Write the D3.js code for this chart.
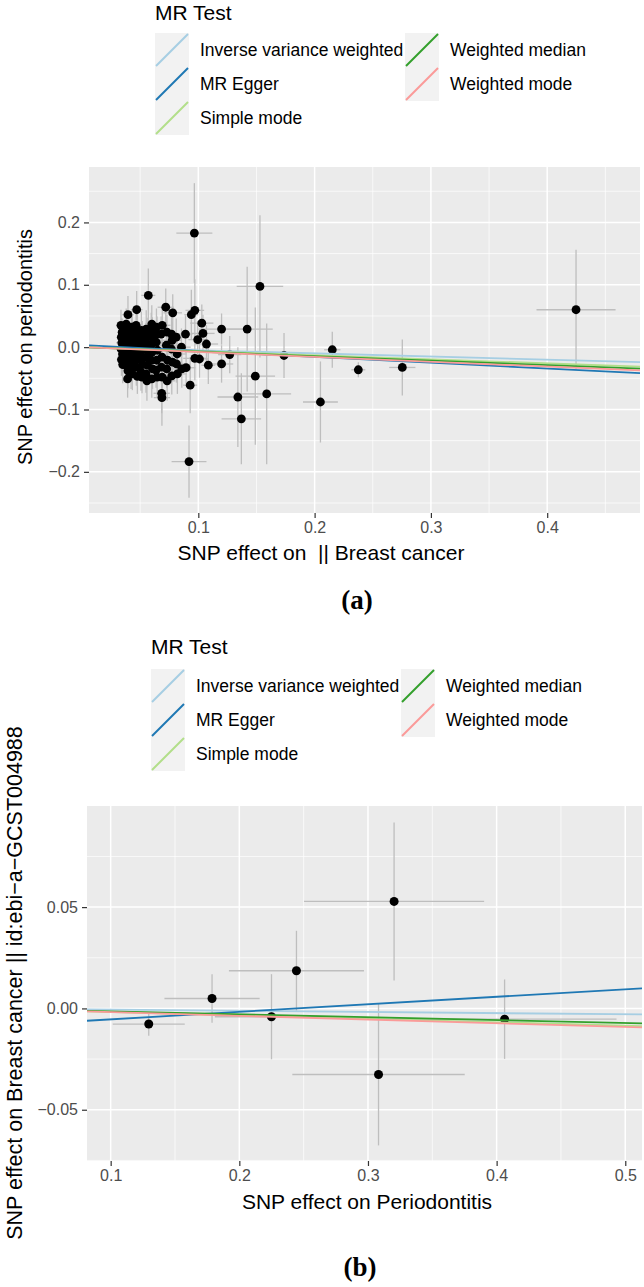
<!DOCTYPE html>
<html><head><meta charset="utf-8">
<script src="https://cdnjs.cloudflare.com/ajax/libs/d3/7.8.5/d3.min.js"></script>
<style>
html,body{margin:0;padding:0;background:#fff;}
svg text{font-family:"Liberation Sans",Arial,sans-serif;white-space:pre;}
</style></head>
<body>
<svg id="chart" width="644" height="1287"></svg>
<script>
// ---------- data ----------
const methods = ["Inverse variance weighted","MR Egger","Simple mode","Weighted median","Weighted mode"];
const methodColors = ["#a6cee3","#1f78b4","#b2df8a","#33a02c","#fb9a99"];

// panel (a): exposure Breast cancer -> outcome periodontitis
const slopesA = [-0.050, -0.094, -0.065, -0.072, -0.078];
const interceptsA = [0, 0.0033, 0, 0, 0];
const xTicksA = [0.1, 0.2, 0.3, 0.4];
const yTicksA = [-0.2, -0.1, 0.0, 0.1, 0.2];
// [beta.exposure, beta.outcome, se.exposure, se.outcome]
const snpA = [
[0.0966,0.183,0.0155,0.080],[0.153,0.0974,0.020,0.114],[0.057,0.083,0.006,0.043],
[0.092,-0.1835,0.015,0.058],[0.137,-0.115,0.017,0.073],[0.134,-0.080,0.0175,0.080],
[0.1588,-0.075,0.021,0.113],[0.149,-0.0465,0.017,0.110],[0.142,0.029,0.022,0.100],
[0.120,0.029,0.020,0.025],[0.127,-0.012,0.010,0.030],[0.1737,-0.0134,0.005,0.036],
[0.120,-0.027,0.010,0.030],[0.1086,-0.029,0.006,0.030],[0.093,-0.061,0.006,0.045],
[0.101,-0.019,0.008,0.030],[0.097,-0.018,0.010,0.035],[0.107,0.005,0.010,0.030],
[0.0995,0.012,0.008,0.030],[0.104,0.022,0.010,0.030],[0.103,0.0385,0.010,0.030],
[0.097,0.059,0.008,0.050],[0.094,0.052,0.006,0.040],[0.089,0.021,0.006,0.030],
[0.4248,0.060,0.034,0.096],[0.2754,-0.0326,0.0113,0.045],[0.2376,-0.0363,0.006,0.012],
[0.2152,-0.0042,0.007,0.029],[0.205,-0.088,0.015,0.065],
[0.0335,0.035,0.004,0.025],[0.0345,0.024,0.004,0.022],[0.0338,0.016,0.004,0.030],
[0.0342,0.007,0.005,0.024],[0.0336,-0.003,0.004,0.028],[0.0348,-0.011,0.004,0.022],
[0.0339,-0.020,0.004,0.026],[0.0350,-0.028,0.004,0.030],
[0.0395,0.052,0.005,0.030],[0.0380,0.037,0.005,0.025],[0.0388,0.030,0.004,0.028],
[0.0378,0.019,0.005,0.020],[0.0385,0.008,0.004,0.030],[0.0392,0.000,0.005,0.025],
[0.0381,-0.008,0.004,0.022],[0.0390,-0.019,0.005,0.030],[0.0383,-0.030,0.004,0.025],
[0.0395,-0.038,0.005,0.028],[0.0392,-0.051,0.005,0.030],
[0.0425,0.032,0.005,0.026],[0.0432,0.021,0.004,0.030],[0.0420,0.011,0.005,0.024],
[0.0430,0.000,0.005,0.030],[0.0427,-0.013,0.004,0.025],[0.0435,-0.024,0.005,0.028],
[0.0422,-0.035,0.004,0.032],[0.0433,-0.043,0.005,0.026],
[0.0470,0.060,0.005,0.030],[0.0465,0.035,0.005,0.026],[0.0475,0.024,0.005,0.030],
[0.0468,0.013,0.006,0.028],[0.0478,0.003,0.005,0.025],[0.0462,-0.008,0.005,0.030],
[0.0473,-0.020,0.006,0.026],[0.0467,-0.032,0.005,0.030],[0.0476,-0.047,0.006,0.028],
[0.0510,0.027,0.005,0.030],[0.0518,0.016,0.006,0.026],[0.0508,0.005,0.005,0.030],
[0.0515,-0.005,0.006,0.024],[0.0512,-0.016,0.005,0.030],[0.0520,-0.028,0.006,0.028],
[0.0507,-0.040,0.005,0.030],[0.0516,-0.048,0.006,0.026],
[0.0552,0.029,0.006,0.030],[0.0560,0.019,0.006,0.028],[0.0548,0.008,0.006,0.030],
[0.0558,-0.003,0.006,0.026],[0.0553,-0.016,0.006,0.030],[0.0562,-0.029,0.006,0.028],
[0.0550,-0.043,0.006,0.030],[0.0558,-0.054,0.006,0.032],
[0.0600,0.037,0.006,0.030],[0.0595,0.027,0.006,0.028],[0.0605,0.016,0.006,0.032],
[0.0598,0.005,0.007,0.026],[0.0602,-0.008,0.006,0.030],[0.0596,-0.021,0.006,0.028],
[0.0606,-0.035,0.007,0.032],[0.0600,-0.051,0.006,0.030],
[0.0640,0.032,0.006,0.030],[0.0645,0.021,0.007,0.028],[0.0638,0.008,0.006,0.030],
[0.0648,-0.005,0.007,0.026],[0.0642,-0.021,0.006,0.030],[0.0637,-0.037,0.007,0.028],
[0.0646,-0.048,0.006,0.032],
[0.0690,0.035,0.007,0.030],[0.0680,0.021,0.006,0.028],[0.0688,-0.016,0.007,0.030],
[0.0683,-0.032,0.007,0.028],[0.0690,-0.048,0.006,0.030],[0.0685,-0.074,0.007,0.032],
[0.0687,-0.081,0.007,0.045],
[0.0720,0.064,0.007,0.030],[0.0730,0.024,0.007,0.028],[0.0725,0.003,0.008,0.030],
[0.0735,-0.021,0.007,0.026],[0.0728,-0.035,0.008,0.030],[0.0732,-0.054,0.007,0.032],
[0.0780,0.055,0.008,0.030],[0.0770,0.021,0.007,0.028],[0.0775,0.011,0.008,0.030],
[0.0768,-0.003,0.007,0.026],[0.0778,-0.024,0.008,0.030],[0.0772,-0.046,0.007,0.030],
[0.0810,0.016,0.008,0.030],[0.0818,-0.011,0.008,0.028],[0.0812,-0.027,0.008,0.030],
[0.0820,-0.043,0.008,0.032],
[0.0855,0.000,0.008,0.030],[0.0858,-0.035,0.008,0.030],[0.0895,-0.033,0.008,0.030]
];

// panel (b): exposure Periodontitis -> outcome Breast cancer
const slopesB = [-0.0058, 0.0371, -0.0170, -0.0144, -0.0183];
const interceptsB = [0, -0.0091, 0, 0, 0];
const xTicksB = [0.1, 0.2, 0.3, 0.4, 0.5];
const yTicksB = [-0.05, 0.00, 0.05];
const snpB = [
[0.1296,-0.0077,0.028,0.0058],[0.1788,0.0049,0.037,0.012],[0.225,-0.0041,0.044,0.021],
[0.2444,0.0186,0.0525,0.0197],[0.3203,0.0528,0.070,0.039],[0.3082,-0.0326,0.067,0.035],
[0.4062,-0.0053,0.087,0.0196]
];

// ---------- drawing ----------
const svg = d3.select("#chart");

function drawLegend(x0, y0, tx, ty){
  const g = svg.append("g");
  g.append("text").attr("x", tx).attr("y", ty).attr("font-size", 21).attr("dominant-baseline","middle")
    .attr("fill","#000").text("MR Test");
  const kw = 34, kh = 34;
  methods.forEach((m, i) => {
    const col = i < 3 ? 0 : 1, row = i < 3 ? i : i - 3;
    const kx = x0 + col * 250, ky = y0 + row * kh;
    g.append("rect").attr("x", kx).attr("y", ky).attr("width", kw).attr("height", kh).attr("fill", "#f2f2f2");
    g.append("line").attr("x1", kx + 1).attr("y1", ky + kh - 1).attr("x2", kx + kw - 1).attr("y2", ky + 1)
      .attr("stroke", methodColors[i]).attr("stroke-width", 2);
    g.append("text").attr("x", kx + kw + 11).attr("y", ky + kh / 2 + 1).attr("dominant-baseline","middle")
      .attr("font-size", 17.5).attr("fill", "#000").text(m);
  });
}

function drawPanel(cfg){
  const x = d3.scaleLinear().domain(cfg.xDomain).range([cfg.left, cfg.right]);
  const y = d3.scaleLinear().domain(cfg.yDomain).range([cfg.bottom, cfg.top]);
  const g = svg.append("g");
  const clipId = "clip" + cfg.id;
  svg.append("defs").append("clipPath").attr("id", clipId).append("rect")
    .attr("x", cfg.left).attr("y", cfg.top).attr("width", cfg.right - cfg.left).attr("height", cfg.bottom - cfg.top);
  g.append("rect").attr("x", cfg.left).attr("y", cfg.top).attr("width", cfg.right - cfg.left)
    .attr("height", cfg.bottom - cfg.top).attr("fill", "#ebebeb");
  const grid = g.append("g");
  cfg.xMinor.forEach(v => grid.append("line").attr("x1", x(v)).attr("x2", x(v)).attr("y1", cfg.top).attr("y2", cfg.bottom)
    .attr("stroke", "#fff").attr("stroke-width", 0.7));
  cfg.yMinor.forEach(v => grid.append("line").attr("y1", y(v)).attr("y2", y(v)).attr("x1", cfg.left).attr("x2", cfg.right)
    .attr("stroke", "#fff").attr("stroke-width", 0.7));
  cfg.xTicks.forEach(v => grid.append("line").attr("x1", x(v)).attr("x2", x(v)).attr("y1", cfg.top).attr("y2", cfg.bottom)
    .attr("stroke", "#fff").attr("stroke-width", 1.5));
  cfg.yTicks.forEach(v => grid.append("line").attr("y1", y(v)).attr("y2", y(v)).attr("x1", cfg.left).attr("x2", cfg.right)
    .attr("stroke", "#fff").attr("stroke-width", 1.5));

  const data = g.append("g").attr("clip-path", `url(#${clipId})`);
  data.selectAll("line.ev").data(cfg.snps).join("line").attr("class","ev")
    .attr("x1", d => x(d[0])).attr("x2", d => x(d[0]))
    .attr("y1", d => y(d[1] - d[3])).attr("y2", d => y(d[1] + d[3]))
    .attr("stroke", "#bebebe").attr("stroke-width", 1.3);
  data.selectAll("line.eh").data(cfg.snps).join("line").attr("class","eh")
    .attr("x1", d => x(d[0] - d[2])).attr("x2", d => x(d[0] + d[2]))
    .attr("y1", d => y(d[1])).attr("y2", d => y(d[1]))
    .attr("stroke", "#bebebe").attr("stroke-width", 1.3);
  data.selectAll("circle").data(cfg.snps).join("circle")
    .attr("cx", d => x(d[0])).attr("cy", d => y(d[1])).attr("r", cfg.r).attr("fill", "#000");
  const [x0, x1] = cfg.xDomain;
  methods.forEach((m, i) => {
    data.append("line")
      .attr("x1", x(x0)).attr("y1", y(cfg.intercepts[i] + cfg.slopes[i] * x0))
      .attr("x2", x(x1)).attr("y2", y(cfg.intercepts[i] + cfg.slopes[i] * x1))
      .attr("stroke", methodColors[i]).attr("stroke-width", 1.8);
  });

  const ax = g.append("g").attr("transform", `translate(0,${cfg.bottom})`)
    .call(d3.axisBottom(x).tickValues(cfg.xTicks).tickFormat(d3.format(".1f")).tickSize(5).tickPadding(4));
  const ay = g.append("g").attr("transform", `translate(${cfg.left},0)`)
    .call(d3.axisLeft(y).tickValues(cfg.yTicks).tickFormat(d3.format(cfg.yFmt)).tickSize(5).tickPadding(4));
  [ax, ay].forEach(a => {
    a.select(".domain").remove();
    a.selectAll(".tick line").attr("stroke", "#333").attr("stroke-width", 1.2);
    a.selectAll(".tick text").attr("fill", "#4d4d4d").attr("font-size", 16)
      .attr("font-family", '"Liberation Sans",Arial,sans-serif');
  });

  svg.append("text").attr("x", cfg.xTitlePos[0]).attr("y", cfg.xTitlePos[1]).attr("text-anchor","middle")
    .attr("dominant-baseline","middle").attr("font-size", 21).attr("fill","#000")
    .attr("xml:space","preserve").text(cfg.xTitle);
  svg.append("text").attr("transform", `translate(${cfg.yTitlePos[0]},${cfg.yTitlePos[1]}) rotate(-90)`)
    .attr("text-anchor","middle").attr("dominant-baseline","middle").attr("font-size", cfg.yTitleSize)
    .attr("fill","#000").text(cfg.yTitle);
  svg.append("text").attr("x", cfg.tagPos[0]).attr("y", cfg.tagPos[1]).attr("text-anchor","middle")
    .attr("dominant-baseline","middle").attr("font-size", 27).attr("font-weight","bold")
    .style("font-family", '"Liberation Serif","Times New Roman",serif').attr("fill","#000").text(cfg.tag);
}

drawLegend(155, 33, 155, 14);
drawPanel({
  id: "a", left: 89, right: 640, top: 167, bottom: 513,
  xDomain: [0.006, 0.4798], yDomain: [-0.266, 0.2889],
  xTicks: xTicksA, yTicks: yTicksA, yFmt: ".1f",
  xMinor: [0.05, 0.15, 0.25, 0.35, 0.45], yMinor: [-0.25, -0.15, -0.05, 0.05, 0.15, 0.25],
  snps: snpA, slopes: slopesA, intercepts: interceptsA, r: 4.4,
  xTitle: "SNP effect on  || Breast cancer", xTitlePos: [321, 554],
  yTitle: "SNP effect on periodontitis", yTitlePos: [27, 347], yTitleSize: 20,
  tag: "(a)", tagPos: [357, 603]
});
drawLegend(151, 669, 151, 648);
drawPanel({
  id: "b", left: 87, right: 642, top: 806, bottom: 1161,
  xDomain: [0.0816, 0.513], yDomain: [-0.0753, 0.0999],
  xTicks: xTicksB, yTicks: yTicksB, yFmt: ".2f",
  xMinor: [0.15, 0.25, 0.35, 0.45], yMinor: [-0.075, -0.025, 0.025, 0.075],
  snps: snpB, slopes: slopesB, intercepts: interceptsB, r: 4.5,
  xTitle: "SNP effect on Periodontitis", xTitlePos: [367, 1203],
  yTitle: "SNP effect on Breast cancer || id:ebi\u2212a\u2212GCST004988", yTitlePos: [16, 983], yTitleSize: 21.5,
  tag: "(b)", tagPos: [360, 1270]
});
</script>
</body></html>
